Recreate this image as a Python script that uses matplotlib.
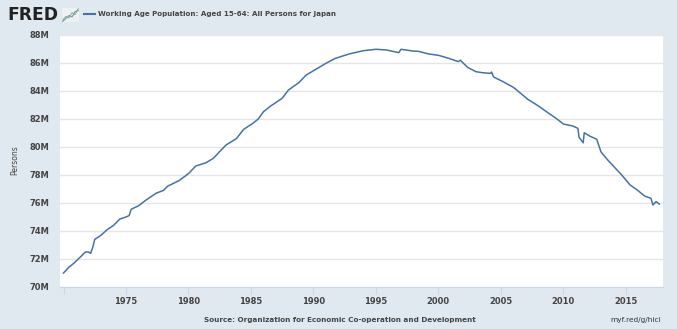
import numpy as np
import pandas as pd
import matplotlib
matplotlib.use('Agg')
import matplotlib.pyplot as plt
import matplotlib.dates as mdates

# values (millions of persons)
dates = ['1970-01', '1970-06', '1970-11', '1971-06', '1971-10', '1972-01', '1972-03',
         '1972-05', '1972-07', '1973-01', '1973-07', '1974-01', '1974-07', '1975-01',
         '1975-04', '1975-06', '1976-01', '1976-08', '1977-06', '1978-01', '1978-05',
         '1979-04', '1980-01', '1980-08', '1981-06', '1982-01', '1982-06', '1983-01',
         '1983-11', '1984-06', '1985-03', '1985-08', '1986-01', '1986-08', '1987-07',
         '1988-01', '1988-11', '1989-06', '1990-05', '1991-01', '1991-10', '1992-11',
         '1994-01', '1995-01', '1995-11', '1996-11', '1997-01', '1997-12', '1998-06',
         '1999-04', '2000-01', '2000-11', '2001-08', '2001-10', '2002-05', '2003-01',
         '2003-07', '2004-03', '2004-04', '2004-06', '2005-03', '2006-01', '2006-08',
         '2007-03', '2008-01', '2008-11', '2009-06', '2010-01', '2010-10', '2011-03',
         '2011-04', '2011-08', '2011-09', '2012-02', '2012-09', '2013-01', '2013-07',
         '2014-03', '2014-09', '2015-05', '2015-11', '2016-07', '2017-01', '2017-03',
         '2017-06', '2017-09']
persons = [71.0, 71.4, 71.7, 72.2, 72.5, 72.5, 72.4,
           72.8, 73.4, 73.7, 74.1, 74.4, 74.85, 75.0,
           75.1, 75.55, 75.8, 76.2, 76.7, 76.9, 77.2,
           77.6, 78.1, 78.64, 78.88, 79.2, 79.6, 80.14,
           80.6, 81.26, 81.7, 82.0, 82.52, 82.93, 83.48,
           84.07, 84.6, 85.14, 85.62, 85.98, 86.33, 86.64,
           86.88, 86.98, 86.93, 86.74, 86.98, 86.86, 86.83,
           86.64, 86.55, 86.33, 86.1, 86.2, 85.69, 85.38,
           85.31, 85.26, 85.35, 85.0, 84.67, 84.26, 83.83,
           83.4, 82.93, 82.4, 82.05, 81.64, 81.5, 81.33,
           80.7, 80.3, 81.02, 80.79, 80.55, 79.66, 79.12,
           78.48, 78.0, 77.29, 76.98, 76.5, 76.33, 75.86,
           76.1, 75.93]

yticks = [70, 72, 74, 76, 78, 80, 82, 84, 86, 88]
ylabels = ['70M', '72M', '74M', '76M', '78M', '80M', '82M', '84M', '86M', '88M']
xyears = [1970, 1975, 1980, 1985, 1990, 1995, 2000, 2005, 2010, 2015]
xlabels = ['', '1975', '1980', '1985', '1990', '1995', '2000', '2005', '2010', '2015']

bg = '#e1e9f0'
txt = '#444444'

fig = plt.figure(figsize=(6.77, 3.29), dpi=100, facecolor=bg)
ax = fig.add_axes([60/677, 42/329, 603/677, 252/329])
ax.set_facecolor('white')

x = pd.to_datetime(dates)
ax.plot(x, persons, color='#4572a7', lw=1.1)

ax.set_ylim(70, 88)
ax.set_yticks(yticks)
ax.set_yticklabels(ylabels)
ax.set_xlim(pd.Timestamp('1969-09-20'), pd.Timestamp('2017-12-20'))
ax.set_xticks([pd.Timestamp(str(y) + '-01-01') for y in xyears])
ax.set_xticklabels(xlabels)

ax.grid(axis='y', color='#e6e6e6', lw=1)
ax.set_axisbelow(True)
for s in ['top', 'right', 'left']:
    ax.spines[s].set_visible(False)
ax.spines['bottom'].set_color('#ccd6eb')
ax.tick_params(axis='y', length=0, pad=8, labelsize=6, labelcolor=txt)
ax.tick_params(axis='x', length=5, color='#ccd6eb', pad=2, labelsize=6, labelcolor=txt)
for lab in ax.get_xticklabels() + ax.get_yticklabels():
    lab.set_fontweight('bold')

fig.text(15/677, 1 - 160/329, 'Persons', rotation=90, ha='center', va='center',
         fontsize=5.5, color=txt)

# header: logo + legend
fig.text(7/677, 1 - 15/329, 'FRED', fontsize=12.3, fontweight='heavy', color='#222222',
         va='center', ha='left')
icon = fig.add_axes([62/677, 1 - 22/329, 17/677, 14/329])
icon.set_facecolor('#eef1f4')
icon.plot([0, 1, 2, 3, 4, 5], [0.5, 1.2, 0.9, 2.0, 1.6, 2.8], color='#9bbf6e', lw=0.8)
icon.plot([0, 1, 2, 3, 4, 5], [0.2, 0.8, 1.4, 1.1, 2.2, 2.4], color='#6f93c4', lw=0.8)
icon.set_xticks([])
icon.set_yticks([])
for s in icon.spines.values():
    s.set_visible(False)
fig.add_artist(plt.Line2D([84/677, 95/677], [1 - 14/329, 1 - 14/329], color='#4572a7', lw=1.5))
fig.text(98/677, 1 - 14/329, 'Working Age Population: Aged 15-64: All Persons for Japan',
         fontsize=5.1, fontweight='bold', color=txt, va='center', ha='left')

fig.text(476/677, 1 - 320/329, 'Source: Organization for Economic Co-operation and Development',
         fontsize=5.25, fontweight='bold', color=txt, va='center', ha='right')
fig.text(661/677, 1 - 320/329, 'myf.red/g/hici', fontsize=5.3, fontweight='normal',
         color='#333333', va='center', ha='right')

fig.savefig('out.png', dpi=100, facecolor=bg)
